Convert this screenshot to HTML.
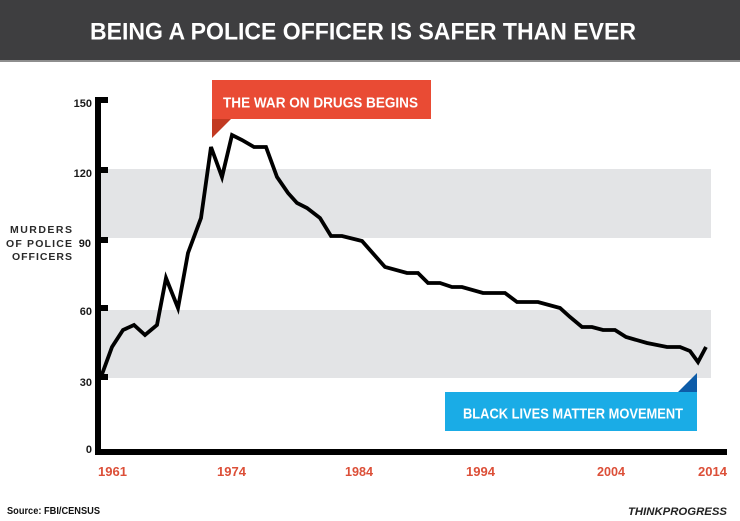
<!DOCTYPE html>
<html>
<head>
<meta charset="utf-8">
<style>
  html,body{margin:0;padding:0;background:#fff;}
  svg{display:block;}
  text{font-family:"Liberation Sans",sans-serif;font-weight:bold;}
</style>
</head>
<body>
<svg width="740" height="521" viewBox="0 0 740 521" xmlns="http://www.w3.org/2000/svg">
  <!-- header -->
  <rect x="0" y="0" width="740" height="60" fill="#3e3e40"/>
  <rect x="0" y="60" width="740" height="2" fill="#8e8e8e"/>
  <text x="90" y="39.5" font-size="24" fill="#ffffff" textLength="546" lengthAdjust="spacingAndGlyphs">BEING A POLICE OFFICER IS SAFER THAN EVER</text>

  <!-- bands -->
  <rect x="101" y="169" width="610" height="69" fill="#e3e4e6"/>
  <rect x="101" y="310" width="610" height="68" fill="#e3e4e6"/>

  <!-- axes -->
  <rect x="95" y="97" width="6" height="358" fill="#000"/>
  <rect x="95" y="449" width="632" height="6" fill="#000"/>
  <rect x="100" y="97" width="8" height="6" fill="#000"/>
  <rect x="100" y="167" width="8" height="6" fill="#000"/>
  <rect x="100" y="237" width="8" height="6" fill="#000"/>
  <rect x="100" y="305" width="8" height="6" fill="#000"/>
  <rect x="100" y="374" width="8" height="6" fill="#000"/>

  <!-- y labels -->
  <g font-size="11" fill="#1a1a1a" text-anchor="end">
    <text x="92" y="107">150</text>
    <text x="92" y="177">120</text>
    <text x="91" y="247">90</text>
    <text x="92" y="315">60</text>
    <text x="92" y="386">30</text>
    <text x="92" y="453">0</text>
  </g>

  <!-- y title -->
  <g font-size="10.5" fill="#2a2a2a">
    <text x="10" y="233" textLength="62" lengthAdjust="spacing">MURDERS</text>
    <text x="6" y="247" textLength="66" lengthAdjust="spacing">OF POLICE</text>
    <text x="12" y="260" textLength="60" lengthAdjust="spacing">OFFICERS</text>
  </g>

  <!-- x labels -->
  <g font-size="13" fill="#dc4f38">
    <text x="98" y="476" textLength="29" lengthAdjust="spacingAndGlyphs">1961</text>
    <text x="217" y="476" textLength="29" lengthAdjust="spacingAndGlyphs">1974</text>
    <text x="345" y="476" textLength="28" lengthAdjust="spacingAndGlyphs">1984</text>
    <text x="466" y="476" textLength="29" lengthAdjust="spacingAndGlyphs">1994</text>
    <text x="597" y="476" textLength="28" lengthAdjust="spacingAndGlyphs">2004</text>
    <text x="698" y="476" textLength="29" lengthAdjust="spacingAndGlyphs">2014</text>
  </g>

  <!-- red annotation -->
  <rect x="212" y="80" width="219" height="39" fill="#e94b34"/>
  <polygon points="212,119 231,119 212,138" fill="#c23a22"/>
  <text x="223" y="107.5" font-size="15" fill="#ffffff" textLength="195" lengthAdjust="spacingAndGlyphs">THE WAR ON DRUGS BEGINS</text>

  <!-- blue annotation -->
  <rect x="445" y="392" width="252" height="39" fill="#1aace6"/>
  <polygon points="678,392 697,392 697,373" fill="#0d5ca8"/>
  <text x="463" y="418.5" font-size="15" fill="#ffffff" textLength="220" lengthAdjust="spacingAndGlyphs">BLACK LIVES MATTER MOVEMENT</text>

  <!-- data line -->
  <polyline fill="none" stroke="#000" stroke-width="3.8" stroke-linejoin="miter" stroke-miterlimit="4"
    points="101,377 112,347 123,330 134,325 145,335 157,325 166,278 178,308 188,253 201,218 211,147 222,177 232,135 242,140 254,147 266,147 277,177 288,193 297,203 307,208 320,218 331,236 342,236 362,241 385,267 407,273 418,273 428,283 440,283 452,287 462,287 483,293 505,293 517,302 538,302 560,308 570,317 582,327 592,327 603,330 615,330 626,337 647,343 667,347 680,347 690,351 698,362 706,347"/>

  <!-- footer -->
  <text x="7" y="514" font-size="10" fill="#111" textLength="93" lengthAdjust="spacingAndGlyphs">Source: FBI/CENSUS</text>
  <text x="628" y="515" font-size="11" font-style="italic" fill="#222" textLength="99" lengthAdjust="spacingAndGlyphs">THINKPROGRESS</text>
</svg>
</body>
</html>
